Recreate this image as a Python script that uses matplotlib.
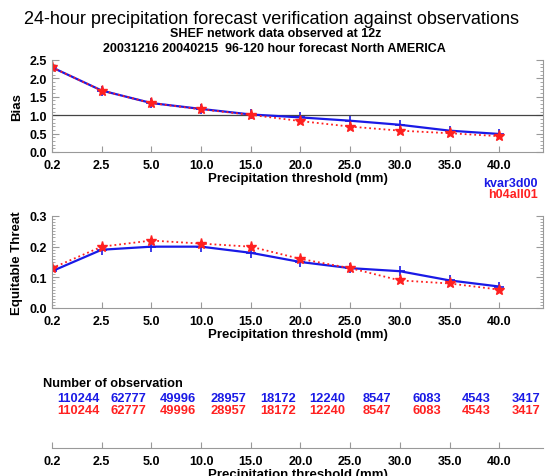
import numpy as np
import matplotlib.pyplot as plt
from matplotlib.ticker import MultipleLocator

plt.rcParams['font.family'] = ['Liberation Sans', 'DejaVu Sans']
plt.rcParams['font.weight'] = 'bold'
plt.rcParams['axes.labelweight'] = 'bold'

# thresholds (mm) shown as evenly spaced categories
thresholds = ['0.2', '2.5', '5.0', '10.0', '15.0', '20.0', '25.0', '30.0', '35.0', '40.0']
models = ['kvar3d00', 'h04all01']

bias_kvar = [2.30, 1.67, 1.33, 1.17, 1.02, 0.94, 0.85, 0.74, 0.58, 0.49]
bias_h04 = [2.30, 1.67, 1.33, 1.16, 1.01, 0.84, 0.69, 0.58, 0.51, 0.43]

ets_kvar = [0.12, 0.19, 0.20, 0.20, 0.18, 0.15, 0.13, 0.12, 0.09, 0.07]
ets_h04 = [0.13, 0.20, 0.22, 0.21, 0.20, 0.16, 0.13, 0.09, 0.08, 0.06]

nobs_kvar = [110244, 62777, 49996, 28957, 18172, 12240, 8547, 6083, 4543, 3417]
nobs_h04 = [110244, 62777, 49996, 28957, 18172, 12240, 8547, 6083, 4543, 3417]

BLUE = '#1a1ae6'
RED = '#ff2020'
GRAY = '#999999'

x = np.arange(len(thresholds))
W, H = 546, 477
fig = plt.figure(figsize=(W / 100, H / 100), dpi=100)


def px_axes(left, right, top, bottom):
    return fig.add_axes([left / W, 1 - bottom / H, (right - left) / W, (bottom - top) / H])


def style(ax, ylim, major, minor):
    ax.set_xlim(0, 9.88)
    ax.set_ylim(*ylim)
    ax.set_xticks(x)
    ax.set_xticklabels(thresholds, fontsize=9)
    ax.yaxis.set_major_locator(MultipleLocator(major))
    ax.yaxis.set_minor_locator(MultipleLocator(minor))
    ax.spines['top'].set_visible(False)
    for s in ['left', 'right', 'bottom']:
        ax.spines[s].set_color(GRAY)
        ax.spines[s].set_linewidth(0.8)
    ax.tick_params(axis='both', which='both', direction='in', color=GRAY, right=True)
    ax.tick_params(axis='y', which='major', length=5, labelsize=9)
    ax.tick_params(axis='y', which='minor', length=2.5)
    ax.tick_params(axis='x', length=4, pad=5)
    ax.set_xlabel('Precipitation threshold (mm)', fontsize=9.5, labelpad=1)


# Bias
ax1 = px_axes(52, 543, 61, 153)
ax1.axhline(1.0, color='#444444', lw=0.9)
ax1.plot(x, bias_kvar, '-', color=BLUE, lw=1.6, marker='+', ms=7, mew=1.2, label=models[0])
ax1.plot(x, bias_h04, ':', color=RED, lw=1.3, marker='*', ms=8, mew=1.0, label=models[1])
style(ax1, (0, 2.5), 0.5, 0.1)
ax1.set_ylabel('Bias', fontsize=9.5, labelpad=5)

# Equitable threat
ax2 = px_axes(52, 543, 217, 309)
ax2.plot(x, ets_kvar, '-', color=BLUE, lw=1.6, marker='+', ms=7, mew=1.2)
ax2.plot(x, ets_h04, ':', color=RED, lw=1.3, marker='*', ms=8, mew=1.0)
style(ax2, (0, 0.3), 0.1, 0.01)
ax2.set_ylabel('Equitable Threat', fontsize=9.5, labelpad=5)

fig.text(538 / W, 1 - 184 / H, models[0], color=BLUE, fontsize=9, ha='right', va='center')
fig.text(538 / W, 1 - 195 / H, models[1], color=RED, fontsize=9, ha='right', va='center')

# number of observations
ax3 = px_axes(52, 543, 440, 449)
ax3.set_xlim(0, 9.88)
ax3.set_ylim(0, 1)
ax3.set_yticks([])
ax3.set_xticks(x)
ax3.set_xticklabels(thresholds, fontsize=9)
for s in ['left', 'right', 'top']:
    ax3.spines[s].set_visible(False)
ax3.spines['bottom'].set_color(GRAY)
ax3.tick_params(axis='x', direction='in', length=4, color=GRAY, pad=5)
ax3.set_xlabel('Precipitation threshold (mm)', fontsize=9.5, labelpad=1)

fig.text(43 / W, 1 - 384 / H, 'Number of observation', fontsize=9.2, va='center')
for i in range(len(x)):
    xf = (52 + (i + 0.54) * 49.7) / W
    fig.text(xf, 1 - 399 / H, str(nobs_kvar[i]), color=BLUE, fontsize=9.3, ha='center', va='center')
    fig.text(xf, 1 - 411 / H, str(nobs_h04[i]), color=RED, fontsize=9.3, ha='center', va='center')

# titles
fig.text(272 / W, 1 - 19 / H, '24-hour precipitation forecast verification against observations',
         fontsize=13, ha='center', va='center', fontweight='normal')
fig.text(276 / W, 1 - 34 / H, 'SHEF network data observed at 12z', fontsize=9, ha='center', va='center')
fig.text(274 / W, 1 - 49 / H, '20031216 20040215  96-120 hour forecast North AMERICA',
         fontsize=9, ha='center', va='center')

fig.savefig('out.png', dpi=100)
